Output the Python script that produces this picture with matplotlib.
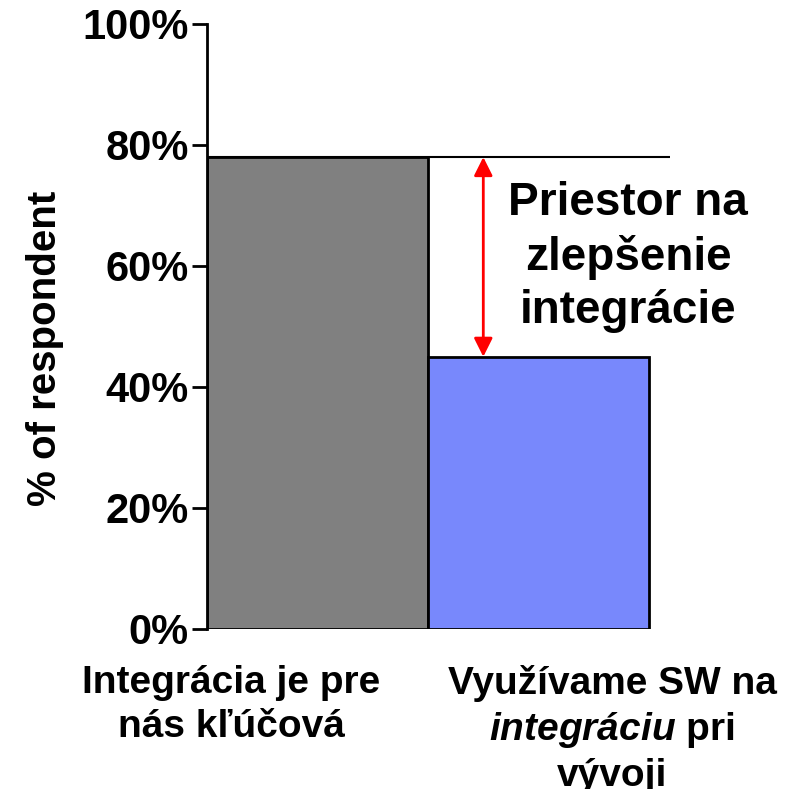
import matplotlib
matplotlib.use("Agg")
import matplotlib.pyplot as plt

# data
categories = ["Integrácia je pre\nnás kľúčová", "Využívame SW na\n$\\it{integráciu}$ pri\nvývoji"]
values = [78, 45]
bar_colors = ["#808080", "#7888FC"]
y_ticks = [0, 20, 40, 60, 80, 100]
y_tick_labels = ["0%", "20%", "40%", "60%", "80%", "100%"]
note = "Priestor na\nzlepšenie\nintegrácie"

plt.rcParams["font.family"] = ["Liberation Sans", "DejaVu Sans"]
plt.rcParams["font.weight"] = "bold"
plt.rcParams["mathtext.fontset"] = "custom"
plt.rcParams["mathtext.it"] = "Liberation Sans:italic:bold"
plt.rcParams["mathtext.rm"] = "Liberation Sans:bold"

fig = plt.figure(figsize=(7.93, 7.89), dpi=100)
ax = fig.add_axes([0.261, 0.2028, 0.584, 0.7668])

x = list(range(len(values)))
ax.bar(x, values, width=1.0, color=bar_colors, edgecolor="black", linewidth=2, zorder=2)

# reference line at the top of the first bar
ax.axhline(values[0], color="black", linewidth=1.5, zorder=3)

# red double arrow showing the gap
ax.annotate("", xy=(0.75, values[1]), xytext=(0.75, values[0]),
            arrowprops=dict(arrowstyle="<|-|>", color="red", lw=2, mutation_scale=28,
                            shrinkA=0, shrinkB=0), zorder=4)

ax.text(1.405, 61.5, note, fontsize=33, fontweight="bold", ha="center", va="center",
        linespacing=1.28, clip_on=False)

ax.set_xlim(-0.5, 1.595)
ax.set_ylim(0, 100)
ax.set_yticks(y_ticks)
ax.set_yticklabels(y_tick_labels, fontsize=30, fontweight="bold")
ax.tick_params(axis="y", direction="out", length=11, width=2, pad=2)
ax.set_xticks([])

for side in ["top", "right", "bottom"]:
    ax.spines[side].set_visible(False)
ax.spines["left"].set_linewidth(2)

# category labels below the bars
fig.text(231 / 793, 1 - 665 / 789, categories[0], fontsize=28, fontweight="bold",
         ha="center", va="top", linespacing=1.28)
fig.text(612 / 793, 1 - 665 / 789, categories[1], fontsize=28, fontweight="bold",
         ha="center", va="top", linespacing=1.28)

fig.text(45 / 793, 1 - 348 / 789, "% of respondent", fontsize=29, fontweight="bold",
         rotation=90, ha="center", va="center")

fig.savefig("out.png", dpi=100)
